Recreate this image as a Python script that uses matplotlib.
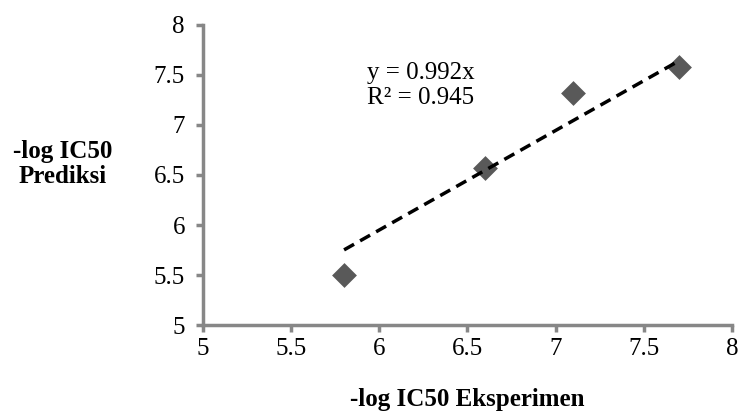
import numpy as np
import matplotlib
matplotlib.use("Agg")
import matplotlib.pyplot as plt

# data
x_exp = [5.8, 6.6, 7.1, 7.7]
y_pred = [5.5, 6.57, 7.32, 7.58]
slope = 0.992
r2 = 0.945
ticks = [5, 5.5, 6, 6.5, 7, 7.5, 8]
tick_labels = ["5", "5.5", "6", "6.5", "7", "7.5", "8"]

plt.rcParams['font.family'] = ['Liberation Serif', 'DejaVu Serif']

fig = plt.figure(figsize=(7.42, 4.12), dpi=100)
ax = fig.add_axes([0.2736, 0.21, 0.7129, 0.7305])

ax.scatter(x_exp, y_pred, marker='D', s=160, color='#595959', zorder=3, linewidths=0)

# trendline through origin, drawn over the data range
xt = np.array([min(x_exp), max(x_exp)])
ax.plot(xt, slope * xt, color='black', linestyle=(0, (3.3, 2.0)), linewidth=2.5, zorder=4)

ax.text(5.93, 7.39, f"y = {slope}x\nR² = {r2}", fontsize=18, va='center', ha='left',
        linespacing=1.15)

ax.set_xlim(5, 8)
ax.set_ylim(5, 8)
ax.set_xticks(ticks)
ax.set_xticklabels(tick_labels)
ax.set_yticks(ticks)
ax.set_yticklabels(tick_labels)

for side in ['top', 'right']:
    ax.spines[side].set_visible(False)
for side in ['left', 'bottom']:
    ax.spines[side].set_color('#878787')
    ax.spines[side].set_linewidth(2.5)
ax.tick_params(axis='both', direction='out', length=5, width=2.5, color='#878787',
               labelsize=18)
ax.tick_params(axis='x', pad=4)
ax.tick_params(axis='y', pad=8)

fig.text(0.085, 0.602, "-log IC50\nPrediksi", fontsize=18, fontweight='bold',
         ha='center', va='center', linespacing=1.1)
fig.text(0.63, 0.03, "-log IC50 Eksperimen", fontsize=18, fontweight='bold',
         ha='center', va='center')

fig.savefig("out.png", dpi=100)
